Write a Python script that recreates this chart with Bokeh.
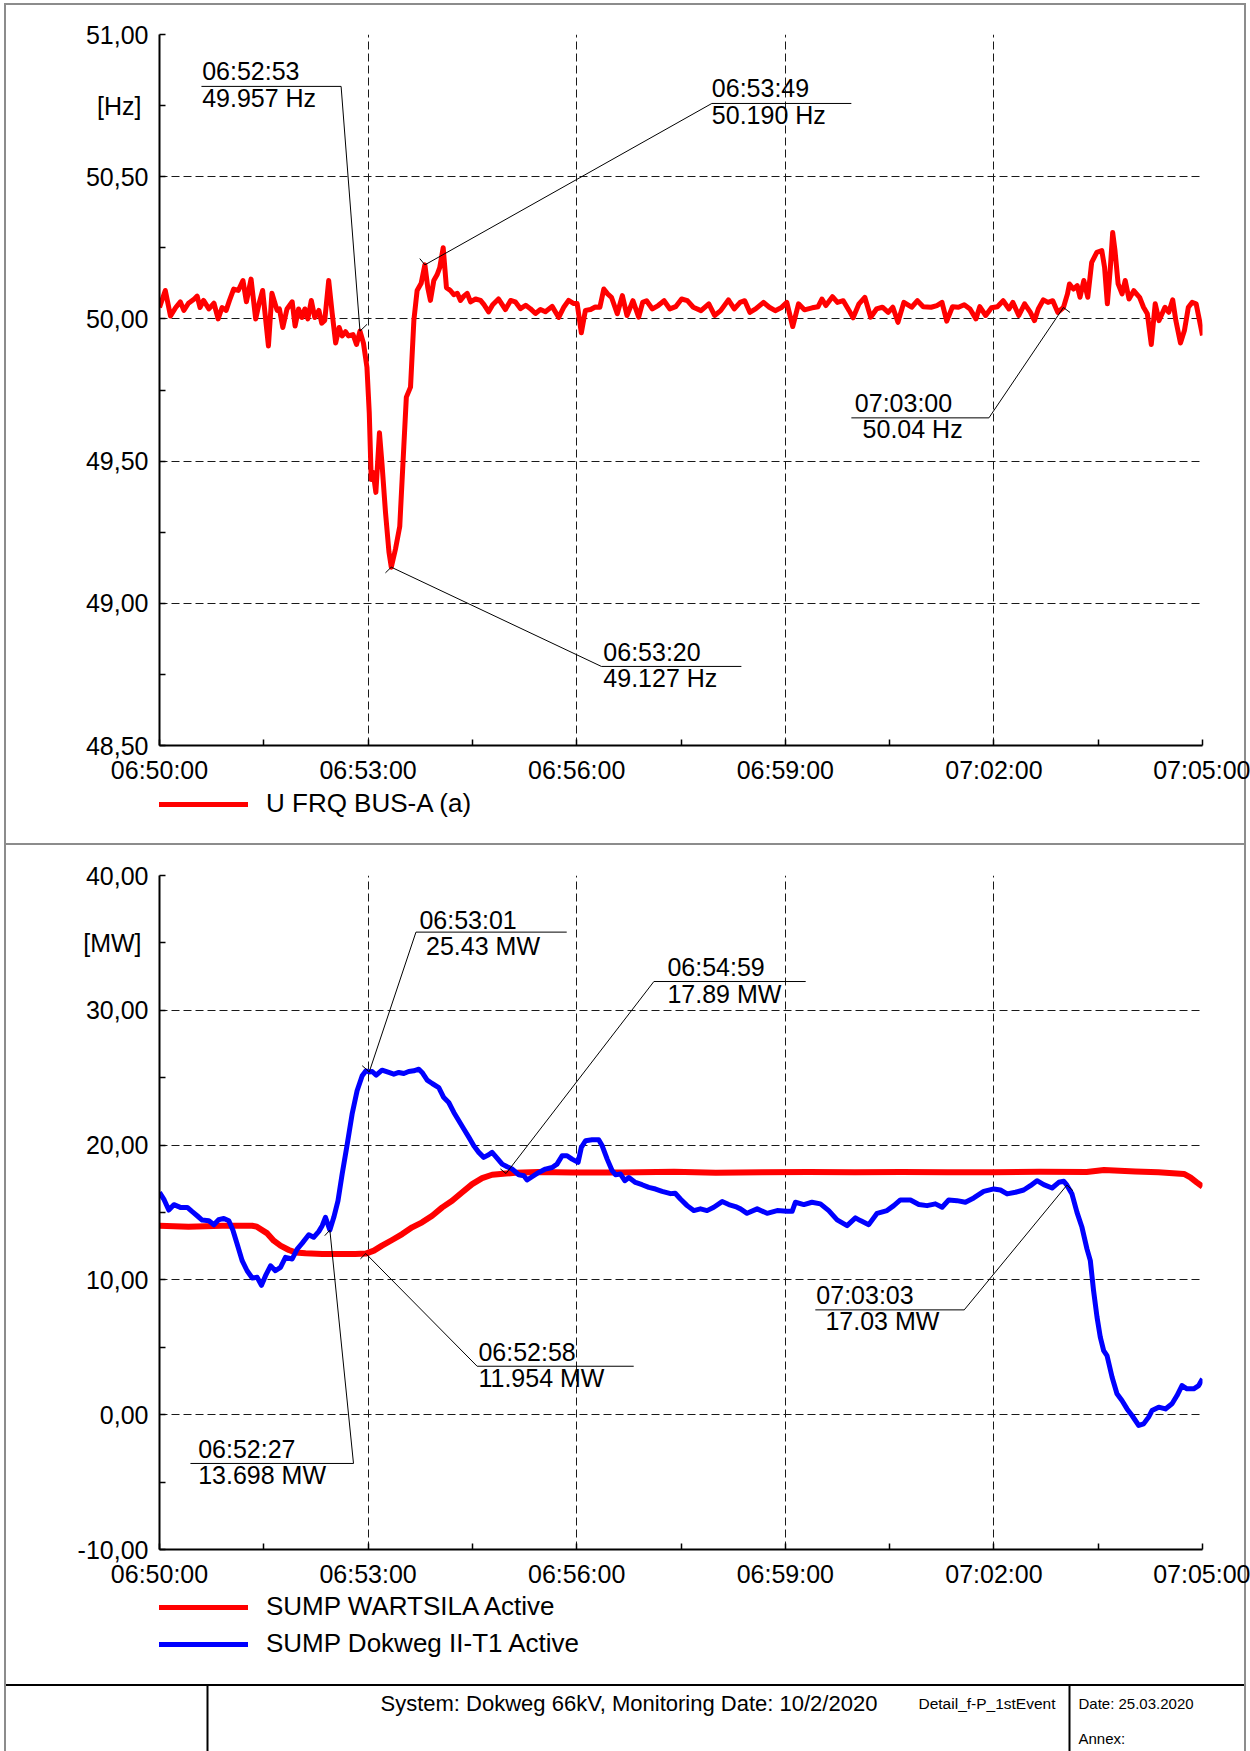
from bokeh.plotting import figure
from bokeh.models import Range1d, FixedTicker, Label, Legend, LegendItem
from bokeh.layouts import column
from bokeh.embed import file_html
from bokeh.resources import INLINE

FONT = "Liberation Sans"
TICK_FS = "25px"

# ---------------- axis ticks / labels ----------------
time_ticks = [0, 180, 360, 540, 720, 900]
time_labels = ["06:50:00", "06:53:00", "06:56:00", "06:59:00", "07:02:00", "07:05:00"]
time_minor = [90, 270, 450, 630, 810]

hz_ticks = [48.5, 49.0, 49.5, 50.0, 50.5, 51.0]
hz_labels = ["48,50", "49,00", "49,50", "50,00", "50,50", "51,00"]
hz_minor = [48.75, 49.25, 49.75, 50.25]
hz_unit = "[Hz]"
hz_unit_pos = 50.75

mw_ticks = [-10, 0, 10, 20, 30, 40]
mw_labels = ["-10,00", "0,00", "10,00", "20,00", "30,00", "40,00"]
mw_minor = [-5, 5, 15, 25]
mw_unit = "[MW]"
mw_unit_pos = 35

# ---------------- series: seconds after 06:50:00 ----------------
freq_name = "U FRQ BUS-A (a)"
freq_t = [0, 5, 9.5, 14, 18, 21, 25, 30, 32.5, 35,
          38, 42.6, 47, 50.6, 54, 57.5, 60.4, 64, 68, 72,
          75, 79, 83, 86, 89, 94, 97, 101.5, 103.5, 106.4,
          110, 114.5, 117, 120, 123, 125.4, 128, 131, 134, 137.5,
          140, 142.6, 146, 149, 152, 155, 157.6, 160.5, 163, 167,
          170, 173, 176, 179, 181, 182.7, 184.4, 186.7, 189.8, 192,
          195, 198, 200, 203.6, 207.3, 210.8, 213, 216.6, 219.5, 222.3,
          225.8, 229, 231.5, 233.8, 236.7, 239.5, 241.8, 244.8, 247.6, 251,
          254, 257, 259.7, 262.6, 265.5, 268.4, 272.7, 277, 280, 284,
          287.5, 292.5, 298.5, 303, 307, 311.5, 316, 320, 324.4, 328.7,
          333, 338.8, 344.5, 349, 353, 357.5, 360.4, 364, 367.5, 372,
          376, 380, 383.4, 386.7, 390, 395, 399.4, 403.4, 408.5, 413.5,
          416.9, 420.3, 425.3, 430.3, 435.4, 440.4, 445.4, 450.5, 455.5, 460.6,
          467.3, 474, 479, 484.2, 490.9, 496, 501, 505, 509.4, 514.4,
          521.2, 526.2, 531.3, 536.3, 541.3, 546.4, 551.4, 556.5, 563.2, 568.3,
          571.6, 575, 580.7, 585, 590, 595.1, 598.5, 603.6, 608.6, 613.7,
          618.7, 623.8, 628.8, 632.8, 637.2, 642.3, 649, 654, 659, 665.8,
          670.8, 675.2, 679.3, 684.3, 689.4, 694.4, 699.4, 704.5, 707.8, 712.9,
          717.9, 723, 728, 733, 736.4, 741.5, 746.5, 751.5, 755, 758.3,
          762.7, 766.7, 770.8, 775.1, 780, 783.5, 785.2, 788.6, 791.9, 794.3,
          797.6, 801, 804.4, 808.8, 813.1, 815.5, 817.9, 820.5, 822.5, 824.5,
          827.2, 830.6, 833.3, 836.6, 840.7, 845.7, 849.1, 852.4, 855.8, 859.2,
          862.5, 867.6, 870.9, 874.3, 877, 881, 884.4, 887.8, 891.1, 894.5,
          900]
freq_v = [50.04, 50.10, 50.01, 50.04, 50.06, 50.03, 50.055, 50.07, 50.08, 50.04,
          50.065, 50.035, 50.055, 50.0, 50.04, 50.03, 50.065, 50.105, 50.10, 50.135,
          50.06, 50.14, 50.0, 50.055, 50.10, 49.905, 50.09, 50.03, 50.035, 49.97,
          50.035, 50.06, 49.975, 50.035, 50.005, 50.035, 50.0, 50.065, 50.005, 50.03,
          49.985, 49.995, 50.135, 50.02, 49.915, 49.97, 49.94, 49.955, 49.94, 49.945,
          49.91, 49.957, 49.915, 49.83, 49.67, 49.435, 49.46, 49.39, 49.60, 49.49,
          49.32, 49.18, 49.127, 49.19, 49.27, 49.55, 49.725, 49.76, 49.995, 50.10,
          50.125, 50.19, 50.11, 50.065, 50.135, 50.155, 50.18, 50.25, 50.11, 50.10,
          50.085, 50.09, 50.065, 50.08, 50.09, 50.06, 50.07, 50.065, 50.05, 50.025,
          50.05, 50.07, 50.033, 50.065, 50.06, 50.036, 50.048, 50.036, 50.019, 50.033,
          50.025, 50.044, 50.005, 50.042, 50.065, 50.054, 50.054, 49.951, 50.03, 50.033,
          50.042, 50.041, 50.105, 50.088, 50.076, 50.018, 50.082, 50.012, 50.064, 50.006,
          50.058, 50.064, 50.035, 50.047, 50.064, 50.035, 50.043, 50.07, 50.064, 50.041,
          50.029, 50.053, 50.012, 50.029, 50.067, 50.035, 50.058, 50.064, 50.023, 50.035,
          50.058, 50.041, 50.029, 50.039, 50.058, 49.973, 50.053, 50.032, 50.039, 50.043,
          50.07, 50.047, 50.078, 50.058, 50.064, 50.029, 50.004, 50.053, 50.076, 50.006,
          50.035, 50.041, 50.023, 50.041, 49.988, 50.058, 50.041, 50.064, 50.043, 50.041,
          50.047, 50.058, 49.992, 50.043, 50.041, 50.05, 50.035, 50.0, 50.043, 50.012,
          50.039, 50.043, 50.064, 50.035, 50.058, 50.012, 50.053, 50.023, 49.994, 50.035,
          50.067, 50.058, 50.064, 50.023, 50.04, 50.088, 50.123, 50.105, 50.117, 50.076,
          50.135, 50.076, 50.199, 50.234, 50.24, 50.181, 50.053, 50.181, 50.304, 50.24,
          50.123, 50.088, 50.135, 50.07, 50.099, 50.076, 50.041, 50.018, 49.91, 50.053,
          49.994, 50.041, 50.023, 50.067, 49.994, 49.915, 49.959, 50.041, 50.058, 50.053,
          49.942]

wart_name = "SUMP WARTSILA Active"
wart_t = [0, 25, 54, 80, 84, 93, 98.6, 104.4, 111.6, 117.3,
          126, 140.4, 154.7, 169, 178, 185, 192, 200.7, 209.4, 218,
          226.6, 235.3, 244, 252.5, 261, 269.8, 278.4, 287, 299, 307,
          327, 356, 399, 444, 480, 520, 560, 600, 640, 680,
          720, 760, 800, 815, 842, 862, 884, 889.5, 895, 900]
wart_v = [14.02, 13.95, 14.02, 14.02, 13.95, 13.45, 12.91, 12.54, 12.22, 12.04,
          11.97, 11.92, 11.92, 11.92, 11.954, 12.17, 12.54, 12.96, 13.40, 13.90,
          14.27, 14.76, 15.38, 15.87, 16.49, 17.11, 17.55, 17.80, 17.89, 17.95,
          18.0, 17.97, 17.97, 18.02, 17.95, 17.98, 18.0, 17.98, 18.0, 17.98,
          17.98, 18.02, 18.0, 18.15, 18.05, 17.98, 17.86, 17.61, 17.24, 16.92]

dok_name = "SUMP Dokweg II-T1 Active"
dok_t = [0, 3.7, 8, 12.4, 18, 24, 28, 32.5, 36.8, 42.6,
         46.9, 51, 55.5, 59.8, 63.3, 67, 71.3, 75.6, 80, 84.3,
         88, 91.5, 95.8, 100, 104.4, 108.7, 114.5, 118.8, 123, 128.8,
         133, 137.5, 140.4, 143.2, 147, 150.4, 154, 157.6, 162, 166.2,
         170.5, 174.9, 178, 181, 183.5, 187, 192, 197.9, 202.2, 206.5,
         210.8, 215, 219.4, 223.8, 226.6, 231, 235.3, 241, 245.3, 249.6,
         254, 258.3, 262.6, 267, 271.2, 275.5, 279.8, 284, 287, 291.3,
         295.7, 300, 304.4, 310, 314.4, 317.2, 321.5, 327.3, 333, 338.8,
         343, 347.4, 351.7, 356, 361.2, 364, 367.6, 373.3, 379, 382,
         386.3, 390.6, 393.5, 397.8, 401.5, 405, 410.7, 416.4, 422.2, 428,
         433.7, 441, 445, 449.5, 455.3, 461, 466.8, 472.5, 478.3, 485.5,
         491.2, 497, 501.3, 507, 515.7, 524.3, 533, 541.5, 545.9, 548.7,
         556, 563, 570.3, 577.5, 584.7, 593.3, 600.5, 604.8, 612, 619.2,
         627.8, 633.6, 639.3, 648, 655.2, 662.3, 669.5, 675.3, 681, 688.2,
         695.4, 702.6, 711.2, 719.9, 725.6, 731.4, 738.6, 745.7, 751.5, 757.2,
         763, 770.2, 776, 780.3, 783, 787.4, 791.7, 796, 800.3, 803.2,
         806, 809, 811.8, 814.7, 817.6, 822, 826.2, 830.5, 834.9, 839.2,
         845, 849.2, 853.5, 856.4, 862.2, 868, 873.7, 878, 882.3, 886.6,
         892.4, 896.7, 900]
dok_v = [16.49, 16.0, 15.18, 15.58, 15.38, 15.38, 15.08, 14.76, 14.44, 14.39,
         14.09, 14.46, 14.56, 14.39, 13.70, 12.66, 11.43, 10.68, 10.14, 10.19,
         9.6, 10.31, 11.05, 10.68, 10.93, 11.67, 11.55, 12.29, 12.71, 13.35,
         13.16, 13.60, 14.02, 14.64, 13.70, 14.64, 15.87, 17.85, 20.07, 22.30,
         24.03, 25.14, 25.5, 25.43, 25.46, 25.19, 25.56, 25.39, 25.26, 25.39,
         25.31, 25.46, 25.51, 25.63, 25.39, 24.82, 24.57, 24.27, 23.53, 23.16,
         22.42, 21.80, 21.19, 20.57, 19.95, 19.46, 19.09, 19.28, 19.46, 19.04,
         18.59, 18.39, 18.22, 17.80, 17.73, 17.41, 17.65, 17.97, 18.22, 18.34,
         18.59, 19.21, 19.21, 18.96, 18.72, 19.83, 20.32, 20.40, 20.40, 19.95,
         18.96, 18.10, 17.80, 17.85, 17.36, 17.60, 17.23, 17.06, 16.86, 16.74,
         16.57, 16.40, 16.43, 16.0, 15.51, 15.14, 15.27, 15.14, 15.39, 15.81,
         15.59, 15.44, 15.27, 14.94, 15.27, 14.94, 15.14, 15.09, 15.09, 15.76,
         15.59, 15.76, 15.64, 15.14, 14.45, 14.03, 14.60, 14.40, 14.10, 14.94,
         15.14, 15.51, 15.93, 15.93, 15.59, 15.51, 15.64, 15.39, 15.93, 15.88,
         15.76, 16.08, 16.57, 16.75, 16.67, 16.38, 16.50, 16.67, 16.99, 17.36,
         17.07, 16.82, 17.24, 17.32, 17.03, 16.37, 15.01, 13.9, 12.3, 11.43,
         9.2, 7.23, 5.75, 4.76, 4.39, 2.78, 1.55, 1.05, 0.43, -0.06,
         -0.8, -0.68, -0.18, 0.31, 0.56, 0.43, 0.81, 1.42, 2.16, 1.92,
         1.92, 2.16, 2.66]

# ---------------- annotated readings ----------------
# (time label, value label, annotated time [s], annotated value)
freq_notes = [("06:52:53", "49.957 Hz", 173, 49.957),
              ("06:53:49", "50.190 Hz", 229, 50.190),
              ("06:53:20", "49.127 Hz", 200, 49.127),
              ("07:03:00", "50.04 Hz", 780, 50.04)]
mw_notes = [("06:53:01", "25.43 MW", 181, 25.43),
            ("06:54:59", "17.89 MW", 299, 17.89),
            ("06:52:58", "11.954 MW", 178, 11.954),
            ("07:03:03", "17.03 MW", 783, 17.03),
            ("06:52:27", "13.698 MW", 147, 13.698)]

# callout placement (data coords): text1 (x,y), text2 (x,y), underline (x0,x1,y), leader start, tick end
freq_callouts = [
    dict(t1=(36.8, 50.8375), t2=(36.8, 50.743), ul=(36.2, 156.7, 50.8175), ls=(156.7, 50.8175), tk=(179.1, 49.981)),
    dict(t1=(476.6, 50.778), t2=(476.6, 50.683), ul=(476.6, 597.0, 50.7575), ls=(476.6, 50.7575), tk=(224.6, 50.212)),
    dict(t1=(383.0, 48.797), t2=(383.0, 48.7025), ul=(381.3, 502.1, 48.778), ls=(381.3, 48.778), tk=(194.96, 49.107)),
    dict(t1=(600.0, 49.6716), t2=(606.7, 49.578), ul=(597.0, 715.7, 49.652), ls=(715.7, 49.652), tk=(785.7, 50.0225)),
]
mw_callouts = [
    dict(t1=(224.3, 36.0), t2=(230.0, 34.1), ul=(221.3, 351.4, 35.8), ls=(221.3, 35.8), tk=(174.9, 25.89)),
    dict(t1=(438.3, 32.54), t2=(438.3, 30.54), ul=(426.6, 557.6, 32.135), ls=(426.6, 32.135), tk=(294.2, 18.23)),
    dict(t1=(275.2, 3.966), t2=(275.2, 1.994), ul=(274.1, 409.2, 3.595), ls=(274.1, 3.595), tk=(173.4, 11.56)),
    dict(t1=(566.8, 8.17), t2=(574.6, 6.24), ul=(565.9, 694.4, 7.776), ls=(694.4, 7.776), tk=(788.2, 16.62)),
    dict(t1=(33.4, -3.246), t2=(33.4, -5.174), ul=(26.7, 167.4, -3.617), ls=(167.4, -3.617), tk=(142.6, 13.28)),
]

RED = "#ff0000"
BLUE = "#0000ff"
GRAY = "#8c8c8c"


def css_lines(lines):
    """lines: list of (color, x, y, w, h) in px, drawn as element background."""
    return {
        "background-image": ", ".join("linear-gradient(%s, %s)" % (c, c) for c, *_ in lines),
        "background-size": ", ".join("%dpx %dpx" % (w, h) for _, x, y, w, h in lines),
        "background-position": ", ".join("%dpx %dpx" % (x, y) for _, x, y, w, h in lines),
        "background-repeat": "no-repeat",
    }


def side_borders(h, extra=()):
    return css_lines([(GRAY, 4, 0, 2, h), (GRAY, 1244, 0, 2, h)] + list(extra))


def make_plot(height, yr, yticks, ylabels, yminor, unit, unit_pos, mb_top, mb_bottom, styles):
    p = figure(width=1250, height=height, x_range=Range1d(0, 900), y_range=Range1d(*yr),
               output_backend="svg", toolbar_location=None,
               min_border_left=159, min_border_right=48,
               min_border_top=mb_top, min_border_bottom=mb_bottom, styles=styles)
    p.outline_line_color = None
    p.background_fill_color = "white"
    p.border_fill_color = None
    xa = p.xaxis[0]
    ya = p.yaxis[0]
    xa.ticker = FixedTicker(ticks=time_ticks, minor_ticks=time_minor)
    xa.major_label_overrides = {t: l for t, l in zip(time_ticks, time_labels)}
    ya.ticker = FixedTicker(ticks=list(yticks) + [unit_pos], minor_ticks=list(yminor))
    ov = {t: l for t, l in zip(yticks, ylabels)}
    ov[unit_pos] = unit + "\u00a0"
    ya.major_label_overrides = ov
    for ax in (xa, ya):
        ax.axis_line_width = 2
        ax.axis_line_color = "black"
        ax.major_tick_in = 6
        ax.major_tick_out = 0
        ax.minor_tick_in = 6
        ax.minor_tick_out = 0
        ax.major_tick_line_color = "black"
        ax.minor_tick_line_color = "black"
        ax.major_tick_line_width = 1.5
        ax.minor_tick_line_width = 1.5
        ax.major_label_text_font = FONT
        ax.major_label_text_font_size = TICK_FS
        ax.major_label_text_color = "black"
    xa.major_label_standoff = 10
    ya.major_label_standoff = 11
    p.xgrid[0].ticker = FixedTicker(ticks=time_ticks)
    p.ygrid[0].ticker = FixedTicker(ticks=list(yticks))
    for g in (p.xgrid[0], p.ygrid[0]):
        g.grid_line_color = "#1a1a1a"
        g.grid_line_dash = "8 4"
        g.grid_line_width = 1
    return p


def add_callouts(p, notes, callouts, dy):
    x0, y0, x1, y1 = [], [], [], []
    for (l1, l2, nt, nv), c in zip(notes, callouts):
        p.add_layout(Label(x=c["t1"][0], y=c["t1"][1] + dy, text=l1, text_font=FONT,
                           text_font_size=TICK_FS, text_baseline="alphabetic", text_color="black"))
        p.add_layout(Label(x=c["t2"][0], y=c["t2"][1] + dy, text=l2, text_font=FONT,
                           text_font_size=TICK_FS, text_baseline="alphabetic", text_color="black"))
        ux0, ux1, uy = c["ul"]
        x0 += [ux0, c["ls"][0], nt]
        y0 += [uy, c["ls"][1], nv]
        x1 += [ux1, nt, c["tk"][0]]
        y1 += [uy, nv, c["tk"][1]]
    p.segment(x0=x0, y0=y0, x1=x1, y1=y1, line_color="black", line_width=1)


def blank_fig(height, x_range, y_range, styles):
    f = figure(width=1250, height=height, x_range=x_range, y_range=y_range,
               x_axis_type=None, y_axis_type=None,
               min_border_left=159, min_border_right=48, min_border_top=0, min_border_bottom=0,
               output_backend="svg", toolbar_location=None, styles=styles)
    f.outline_line_color = None
    f.background_fill_color = None
    f.border_fill_color = None
    return f


def legend_fig(height, entries, loc, styles):
    # legend keys only: the key renderers sit outside the visible range
    f = blank_fig(height, Range1d(0, 1), Range1d(0, 1), styles)
    items = []
    for name, color, lw in entries:
        r = f.line(x=[-3, -2], y=[-3, -3], line_color=color, line_width=lw, line_cap="round")
        items.append(LegendItem(label=name, renderers=[r]))
    f.add_layout(Legend(items=items, location=loc, orientation="vertical", padding=0, margin=0,
                        spacing=6, glyph_width=89, glyph_height=30, label_height=30,
                        label_standoff=18, label_text_font=FONT, label_text_font_size="26px",
                        label_text_color="black", border_line_color=None,
                        background_fill_alpha=0))
    return f


# ---------------- top: frequency ----------------
H1 = 786
p1 = make_plot(H1, (48.5, 51.0), hz_ticks, hz_labels, hz_minor, hz_unit, hz_unit_pos, 34, H1 - 746,
               css_lines([(GRAY, 4, 3, 1242, 2), (GRAY, 4, 3, 2, H1 - 3), (GRAY, 1244, 3, 2, H1 - 3)]))
p1.line(freq_t, freq_v, line_color=RED, line_width=5, line_join="round")
add_callouts(p1, freq_notes, freq_callouts, 0.0333)

L1H = 845 - H1
leg1 = legend_fig(L1H, [(freq_name, RED, 5)], (0, L1H - 33),
                  side_borders(L1H, [(GRAY, 4, L1H - 2, 1242, 2)]))

# ---------------- bottom: active power ----------------
H2 = 745
p2 = make_plot(H2, (-10, 40), mw_ticks, mw_labels, mw_minor, mw_unit, mw_unit_pos, 30, H2 - 704,
               side_borders(H2))
p2.line(wart_t, wart_v, line_color=RED, line_width=6, line_join="round")
p2.line(dok_t, dok_v, line_color=BLUE, line_width=5, line_join="round")
add_callouts(p2, mw_notes, mw_callouts, 0.704)

L2H = 1684 - 845 - H2
leg2 = legend_fig(L2H, [(wart_name, RED, 5), (dok_name, BLUE, 5)], (0, L2H - 69),
                  side_borders(L2H))

# ---------------- footer (x data = page pixels) ----------------
p3 = blank_fig(67, Range1d(159, 1202), Range1d(67, 0),
               side_borders(67, [("#000000", 4, 0, 1242, 2)]))
p3.segment(x0=[207, 1069], y0=[1, 1], x1=[207, 1069], y1=[67, 67],
           line_color="black", line_width=2)
p3.add_layout(Label(x=380, y=18.5, text="System: Dokweg 66kV, Monitoring Date: 10/2/2020",
                    text_font=FONT, text_font_size="22px", text_baseline="middle", text_color="black"))
p3.add_layout(Label(x=918, y=19, text="Detail_f-P_1stEvent", text_font=FONT,
                    text_font_size="15.5px", text_baseline="middle", text_color="black"))
p3.add_layout(Label(x=1078, y=18.5, text="Date: 25.03.2020", text_font=FONT,
                    text_font_size="15px", text_baseline="middle", text_color="black"))
p3.add_layout(Label(x=1078, y=54, text="Annex:", text_font=FONT,
                    text_font_size="15px", text_baseline="middle", text_color="black"))

layout = column(p1, leg1, p2, leg2, p3, spacing=0)
open("out.html", "w").write(file_html(layout, INLINE))
